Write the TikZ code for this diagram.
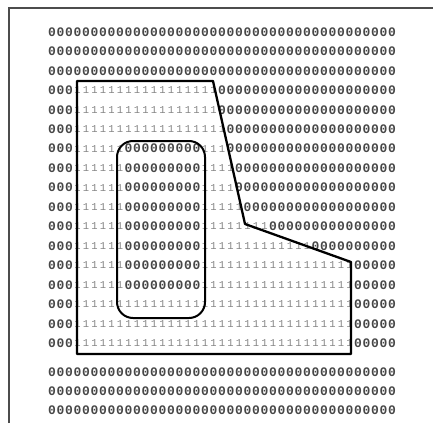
\documentclass[tikz,border=0pt]{standalone}
\usepackage{fontspec}
\newfontfamily\gridfont{Liberation Mono}
\begin{document}
\begin{tikzpicture}[x=1pt,y=-1pt,
  zeroc/.style={inner sep=0pt,outer sep=0pt,text=black!72,font=\gridfont\bfseries\fontsize{13}{13}\selectfont},
  onec/.style={inner sep=0pt,outer sep=0pt,text=black!48,font=\gridfont\fontsize{10.5}{10.5}\selectfont},
  outline/.style={draw=black,line width=2.3pt,line join=round},
  inner/.style={draw=black,line width=2pt,rounded corners=16pt},
  frame/.style={draw=black!70,line width=1.4pt}]
\useasboundingbox (0,0) rectangle (433,423);
% frame
\coordinate (f1) at (9,423);
\coordinate (f2) at (9,8);
\coordinate (f3) at (433,8);
\draw[frame] (f1) -- (f2) -- (f3);
% character grid
\foreach \r/\y/\cm in {0/32/-1, 1/51.45/-1, 2/70.9/-1, 3/90.35/19, 4/109.8/19,
  5/129.25/20, 6/148.7/20, 7/168.15/21, 8/187.6/21, 9/207.05/22, 10/226.5/25,
  11/245.95/30, 12/265.4/35, 13/284.85/35, 14/304.3/35, 15/323.75/35,
  16/343.2/35, 17/372/-1, 18/391/-1, 19/410/-1} {
  \foreach \c in {0,...,40} {
    \pgfmathtruncatemacro\one{(\c>=3)*(\c<=\cm)*(1-(\r>=6)*(\r<=13)*(\c>=9)*(\c<=17))}
    \ifnum\one=1
      \node[onec] (g\r-\c) at ({52+8.5*\c},\y) {1};
    \else
      \node[zeroc] (g\r-\c) at ({52+8.5*\c},\y) {0};
    \fi
  }
}
% outer polygon
\coordinate (p1) at (77,81);
\coordinate (p2) at (213,81);
\coordinate (p3) at (245,224);
\coordinate (p4) at (351,262);
\coordinate (p5) at (351,354);
\coordinate (p6) at (77,354);
\draw[outline] (p1) -- (p2) -- (p3) -- (p4) -- (p5) -- (p6) -- cycle;
% inner rounded rectangle
\coordinate (q1) at (117,141);
\coordinate (q2) at (205,318);
\draw[inner] (q1) rectangle (q2);
\end{tikzpicture}
\end{document}
